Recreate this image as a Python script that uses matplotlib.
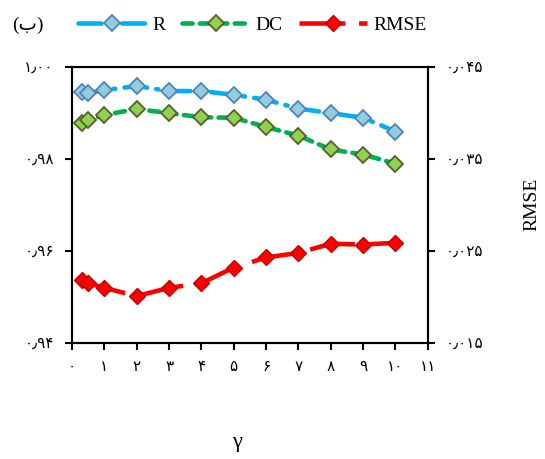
import matplotlib
matplotlib.use("Agg")
import matplotlib.pyplot as plt
from matplotlib.ticker import FuncFormatter

plt.rcParams['font.family'] = ['Liberation Serif', 'DejaVu Sans']

# data
gamma = [0.3, 0.5, 1, 2, 3, 4, 5, 6, 7, 8, 9, 10]
r_vals = [0.9947, 0.9943, 0.9950, 0.9959, 0.9948, 0.9948,
          0.9940, 0.9929, 0.9910, 0.9900, 0.9890, 0.9860]
dc_vals = [0.9879, 0.9884, 0.9896, 0.9909, 0.9900, 0.9891,
           0.9890, 0.9870, 0.9851, 0.9821, 0.9810, 0.9790]
rmse_vals = [0.0219, 0.0215, 0.0210, 0.0201, 0.0210, 0.0215,
             0.0232, 0.0243, 0.0248, 0.0258, 0.0257, 0.0259]

left_ticks = [0.94, 0.96, 0.98, 1.00]
right_ticks = [0.015, 0.025, 0.035, 0.045]
x_ticks = list(range(0, 12))

FA = str.maketrans('0123456789.', '۰۱۲۳۴۵۶۷۸۹٫')


def fa(fmt):
    return FuncFormatter(lambda v, p: (fmt % v).translate(FA))


fig = plt.figure(figsize=(5.45, 4.59), dpi=100)
ax = fig.add_axes([0.132, 0.2527, 0.653, 0.601])
ax2 = ax.twinx()

h1, = ax.plot(gamma, r_vals, color='#00B0F0', lw=3.3,
              linestyle=(0, (5, 2, 0.5, 2)), dash_capstyle='round',
              marker='D', ms=8, mfc='#92CDDC', mec='#4F81BD', mew=1.3,
              label='R')
h2, = ax.plot(gamma, dc_vals, color='#00B050', lw=3.3,
              linestyle=(0, (2.2, 1.6)), dash_capstyle='round',
              marker='D', ms=8, mfc='#92D050', mec='#4F6228', mew=1.3,
              label='DC')
h3, = ax2.plot(gamma, rmse_vals, color='#FF0000', lw=3.3,
               linestyle=(0, (10, 3)),
               marker='D', ms=8, mfc='#FF0000', mec='#C00000', mew=1.0,
               label='RMSE')

ax.set_xlim(0, 11)
ax.set_ylim(0.94, 1.00)
ax2.set_ylim(0.015, 0.045)
ax.set_xticks(x_ticks)
ax.set_yticks(left_ticks)
ax2.set_yticks(right_ticks)
ax.xaxis.set_major_formatter(fa('%d'))
ax.yaxis.set_major_formatter(fa('%.2f'))
ax2.yaxis.set_major_formatter(fa('%.3f'))

for a in (ax, ax2):
    for s in a.spines.values():
        s.set_linewidth(1.5)
    a.tick_params(direction='out', length=5, width=1.5, labelsize=11, pad=8)

ax.text(0.465, -0.36, 'γ', transform=ax.transAxes, ha='center', va='center',
        fontsize=16)
fig.text(0.976, 0.555, 'RMSE', rotation=90, ha='center', va='center',
         fontsize=14)
fig.text(0.022, 0.945, '(ب)', ha='left', va='center', fontsize=14)

fig.legend(handles=[h1, h2, h3], loc='center', ncol=3, frameon=False,
           bbox_to_anchor=(0.463, 0.945), fontsize=14, handlelength=3.5,
           handletextpad=0.3, columnspacing=0.85, borderaxespad=0)

fig.savefig('out.png', dpi=100)
